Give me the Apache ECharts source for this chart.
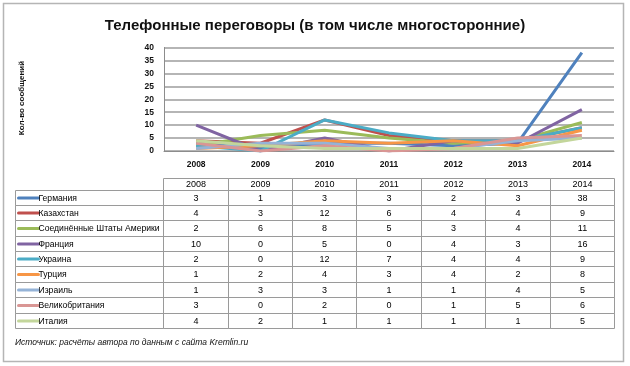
<!DOCTYPE html>
<html><head><meta charset="utf-8">
<script src="https://cdn.jsdelivr.net/npm/echarts@6/dist/echarts.min.js"></script>
<style>html,body{margin:0;padding:0;background:#fff}#c{width:630px;height:366px}</style>
</head><body><div id="c"></div>
<script>
const years = ['2008','2009','2010','2011','2012','2013','2014'];
const countries = ['Германия','Казахстан','Соединённые Штаты Америки','Франция','Украина','Турция','Израиль','Великобритания','Италия'];
const colors = ['#4F81BD','#C0504D','#9BBB59','#8064A2','#4BACC6','#F79646','#95B3D7','#D99694','#C3D69B'];
const germany    = [3,1,3,3,2,3,38];
const kazakhstan = [4,3,12,6,4,4,9];
const usa        = [2,6,8,5,3,4,11];
const france     = [10,0,5,0,4,3,16];
const ukraine    = [2,0,12,7,4,4,9];
const turkey     = [1,2,4,3,4,2,8];
const israel     = [1,3,3,1,1,4,5];
const uk         = [3,0,2,0,1,5,6];
const italy      = [4,2,1,1,1,1,5];
const values = [germany,kazakhstan,usa,france,ukraine,turkey,israel,uk,italy];
const yTicks = [0,5,10,15,20,25,30,35,40];

const FONT = 'Liberation Sans';
const HEAD_W = 2.3, HEAD_H = 0.75;

// table cells
const cells = [];
years.forEach((y,i)=>cells.push({x0:i,y0:-HEAD_H,x1:i+1,y1:0,text:y,kind:'head'}));
countries.forEach((c,r)=>{
  cells.push({x0:-HEAD_W,y0:r,x1:0,y1:r+1,text:c,kind:'row',color:colors[r]});
  values[r].forEach((v,i)=>cells.push({x0:i,y0:r,x1:i+1,y1:r+1,text:String(v),kind:'num'}));
});

function renderCell(params, api){
  const cell = cells[params.dataIndex];
  const p0 = api.coord([api.value(0), api.value(1)]);
  const p1 = api.coord([api.value(2), api.value(3)]);
  const x = Math.round(p0[0])+0.5, y = Math.round(p0[1])+0.5;
  const w = Math.round(p1[0])-Math.round(p0[0]), h = Math.round(p1[1])-Math.round(p0[1]);
  const children = [{type:'rect',shape:{x:x,y:y,width:w,height:h},style:{fill:'none',stroke:'#9a9a9a',lineWidth:1}}];
  if(cell.kind==='row'){
    children.push({type:'line',shape:{x1:x+3,y1:y+h/2,x2:x+23,y2:y+h/2},style:{stroke:cell.color,lineWidth:3,lineCap:'round'}});
    children.push({type:'text',style:{x:x+23,y:y+h/2+0.5,text:cell.text,fill:'#000',font:'8.6px "'+FONT+'"',textAlign:'left',textVerticalAlign:'middle'}});
  } else {
    children.push({type:'text',style:{x:x+w/2,y:y+h/2+0.5,text:cell.text,fill:'#000',font:'9px "'+FONT+'"',textAlign:'center',textVerticalAlign:'middle'}});
  }
  return {type:'group',children:children};
}

const lineSeries = countries.map((c,i)=>({
  name:c,type:'line',data:values[i],xAxisIndex:0,yAxisIndex:0,
  showSymbol:false,symbol:'none',lineStyle:{width:3,color:colors[i]},itemStyle:{color:colors[i]},
  animation:false
}));

const chart = echarts.init(document.getElementById('c'),null,{renderer:'canvas'});
chart.setOption({
  backgroundColor:'#fff',
  animation:false,
  textStyle:{fontFamily:FONT},
  title:{text:'Телефонные переговоры (в том числе многосторонние)',left:'center',top:13,
    textStyle:{fontFamily:FONT,fontSize:15,fontWeight:'bold',color:'#111'}},
  graphic:[
    {type:'rect',shape:{x:3.5,y:3.5,width:620,height:358},style:{fill:'none',stroke:'#b5b5b5',lineWidth:1.5},z:-1},
    {type:'text',left:15,top:338,style:{text:'Источник: расчёты автора по данным с сайта Kremlin.ru',font:'italic 8.5px "'+FONT+'"',fill:'#111'}},
    {type:'text',rotation:Math.PI/2,x:22,y:98,style:{text:'Кол-во сообщений',font:'bold 8px "'+FONT+'"',fill:'#111',textAlign:'center',textVerticalAlign:'middle'}}
  ],
  grid:[
    {left:164,right:16,top:47.5,bottom:215,show:false},
    {left:15,right:16,top:178,bottom:38,show:false}
  ],
  xAxis:[
    {type:'category',data:years,gridIndex:0,boundaryGap:true,
      axisLine:{show:true,lineStyle:{color:'#8c8c8c',width:1}},axisTick:{show:false},
      axisLabel:{fontSize:8.5,color:'#111',margin:9,fontFamily:FONT,fontWeight:'bold'}},
    {type:'value',gridIndex:1,min:-HEAD_W,max:7,show:false}
  ],
  yAxis:[
    {type:'value',gridIndex:0,min:0,max:40,interval:5,
      axisLine:{show:true,lineStyle:{color:'#8c8c8c'}},axisTick:{show:false},
      axisLabel:{fontSize:8.5,color:'#111',margin:10,fontFamily:FONT,fontWeight:'bold'},
      splitLine:{show:true,lineStyle:{color:'#9c9c9c',width:1.5}}},
    {type:'value',gridIndex:1,min:-HEAD_H,max:9,inverse:true,show:false}
  ],
  series:lineSeries.concat([{
    type:'custom',xAxisIndex:1,yAxisIndex:1,renderItem:renderCell,
    data:cells.map((c,i)=>[c.x0,c.y0,c.x1,c.y1,i]),
    encode:{x:[0,2],y:[1,3]},clip:false,silent:true,animation:false
  }])
});
</script></body></html>
